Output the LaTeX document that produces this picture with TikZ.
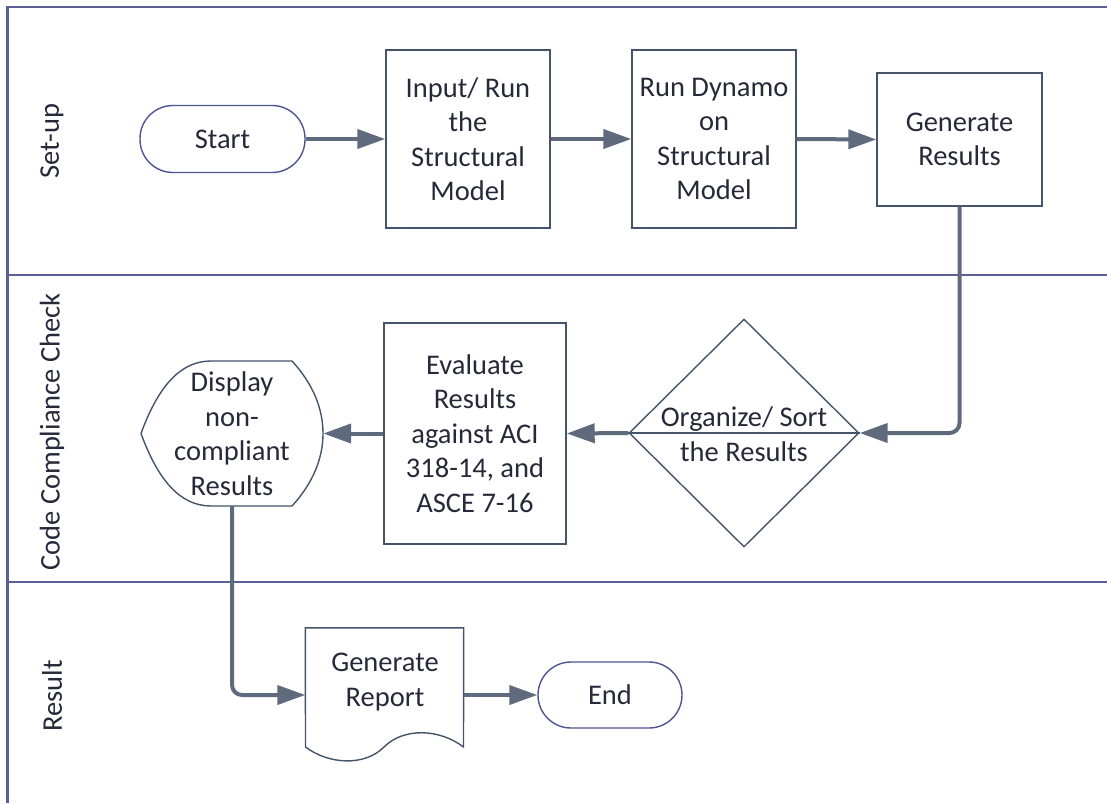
\documentclass[tikz,border=0pt]{standalone}
\usepackage{fontspec}
\setmainfont{Carlito}
\usetikzlibrary{arrows.meta,shapes.geometric}
\definecolor{poolc}{HTML}{5A6096}
\definecolor{termc}{HTML}{4E5592}
\definecolor{boxc}{HTML}{44546A}
\definecolor{arrowc}{HTML}{5F6B7C}
\definecolor{txt}{HTML}{252A3A}
\tikzset{
  every node/.style={font=\fontsize{28.5}{34.5}\selectfont, text=txt, align=center, inner sep=0pt},
  pool/.style={draw=poolc, line width=2.2pt},
  term/.style={draw=termc, line width=1.4pt, rounded corners=33pt, minimum width=165pt, minimum height=67pt},
  procbox/.style={draw=boxc, line width=1.4pt},
  boxline/.style={draw=boxc, line width=1.4pt},
  flow/.style={draw=arrowc, line width=4pt, -{Triangle[length=28pt,width=19pt]}, rounded corners=10pt},
  lanelabel/.style={rotate=90}
}
\begin{document}
\begin{tikzpicture}[x=1pt,y=-1pt]
\useasboundingbox (0,0) rectangle (1107,803);
% pool and lanes
\draw[pool] (1107,7) -- (7.5,7) -- (7.5,803);
\draw[pool] (7.5,275) -- (1107,275);
\draw[pool] (7.5,582) -- (1107,582);
\node[lanelabel] (l1) at (52,141) {Set-up};
\node[lanelabel] (l2) at (52,432) {Code Compliance Check};
\node[lanelabel] (l3) at (52,696) {Result};
% set-up lane
\node[term] (start) at (222.5,139) {Start};
\node[procbox, minimum width=164pt, minimum height=178pt] (input) at (468,139) {Input/ Run\\the\\Structural\\Model};
\node[procbox, minimum width=164pt, minimum height=178pt] (dynamo) at (714,139) {Run Dynamo\\on\\Structural\\Model};
\node[procbox, minimum width=165pt, minimum height=133pt] (genres) at (959.5,139.5) {Generate\\Results};
% code compliance lane
\node[draw=boxc, line width=1.4pt, diamond, minimum width=230pt, minimum height=228pt] (sort) at (744,433) {};
\draw[boxline] (sort.west) -- (sort.east);
\node (sorttxt) at (744,434) {Organize/ Sort\\the Results};
\node[procbox, minimum width=182pt, minimum height=221pt] (eval) at (475,433.5) {Evaluate\\Results\\against ACI\\318-14, and\\ASCE 7-16};
\node[minimum width=182pt, minimum height=145pt] (disp) at (232,433.5) {Display\\non-\\compliant\\Results};
\draw[boxline] (211,361) -- (292,361)
  .. controls (314,385) and (323,410) .. (323,433.5)
  .. controls (323,457) and (314,482) .. (292,506)
  -- (211,506)
  .. controls (180,506) and (158,480) .. (141,433.5)
  .. controls (158,387) and (180,361) .. (211,361) -- cycle;
% result lane
\node[minimum width=158pt, minimum height=119pt] (report) at (384.5,687.5) {};
\node (reporttxt) at (385,682) {Generate\\Report};
\draw[boxline] (report.north west) -- (report.north east) -- (463.5,747)
  .. controls (440,729) and (404,727) .. (384,747)
  .. controls (364,767) and (328,764) .. (305.5,747) -- cycle;
\node[term, minimum width=144pt, minimum height=66pt] (endn) at (610,695) {End};
% connectors
\draw[flow] (start.east) -- (input.west);
\draw[flow] (input.east) -- (dynamo.west);
\draw[flow] (dynamo.east) -- (genres.west);
\draw[flow] (genres.south) |- (sort.east);
\draw[flow] (sort.west) -- (eval.east);
\draw[flow] (eval.west) -- (disp.east);
\draw[flow] (disp.south) |- (report.west |- endn.west);
\draw[flow] (report.east |- endn.west) -- (endn.west);
\end{tikzpicture}
\end{document}
